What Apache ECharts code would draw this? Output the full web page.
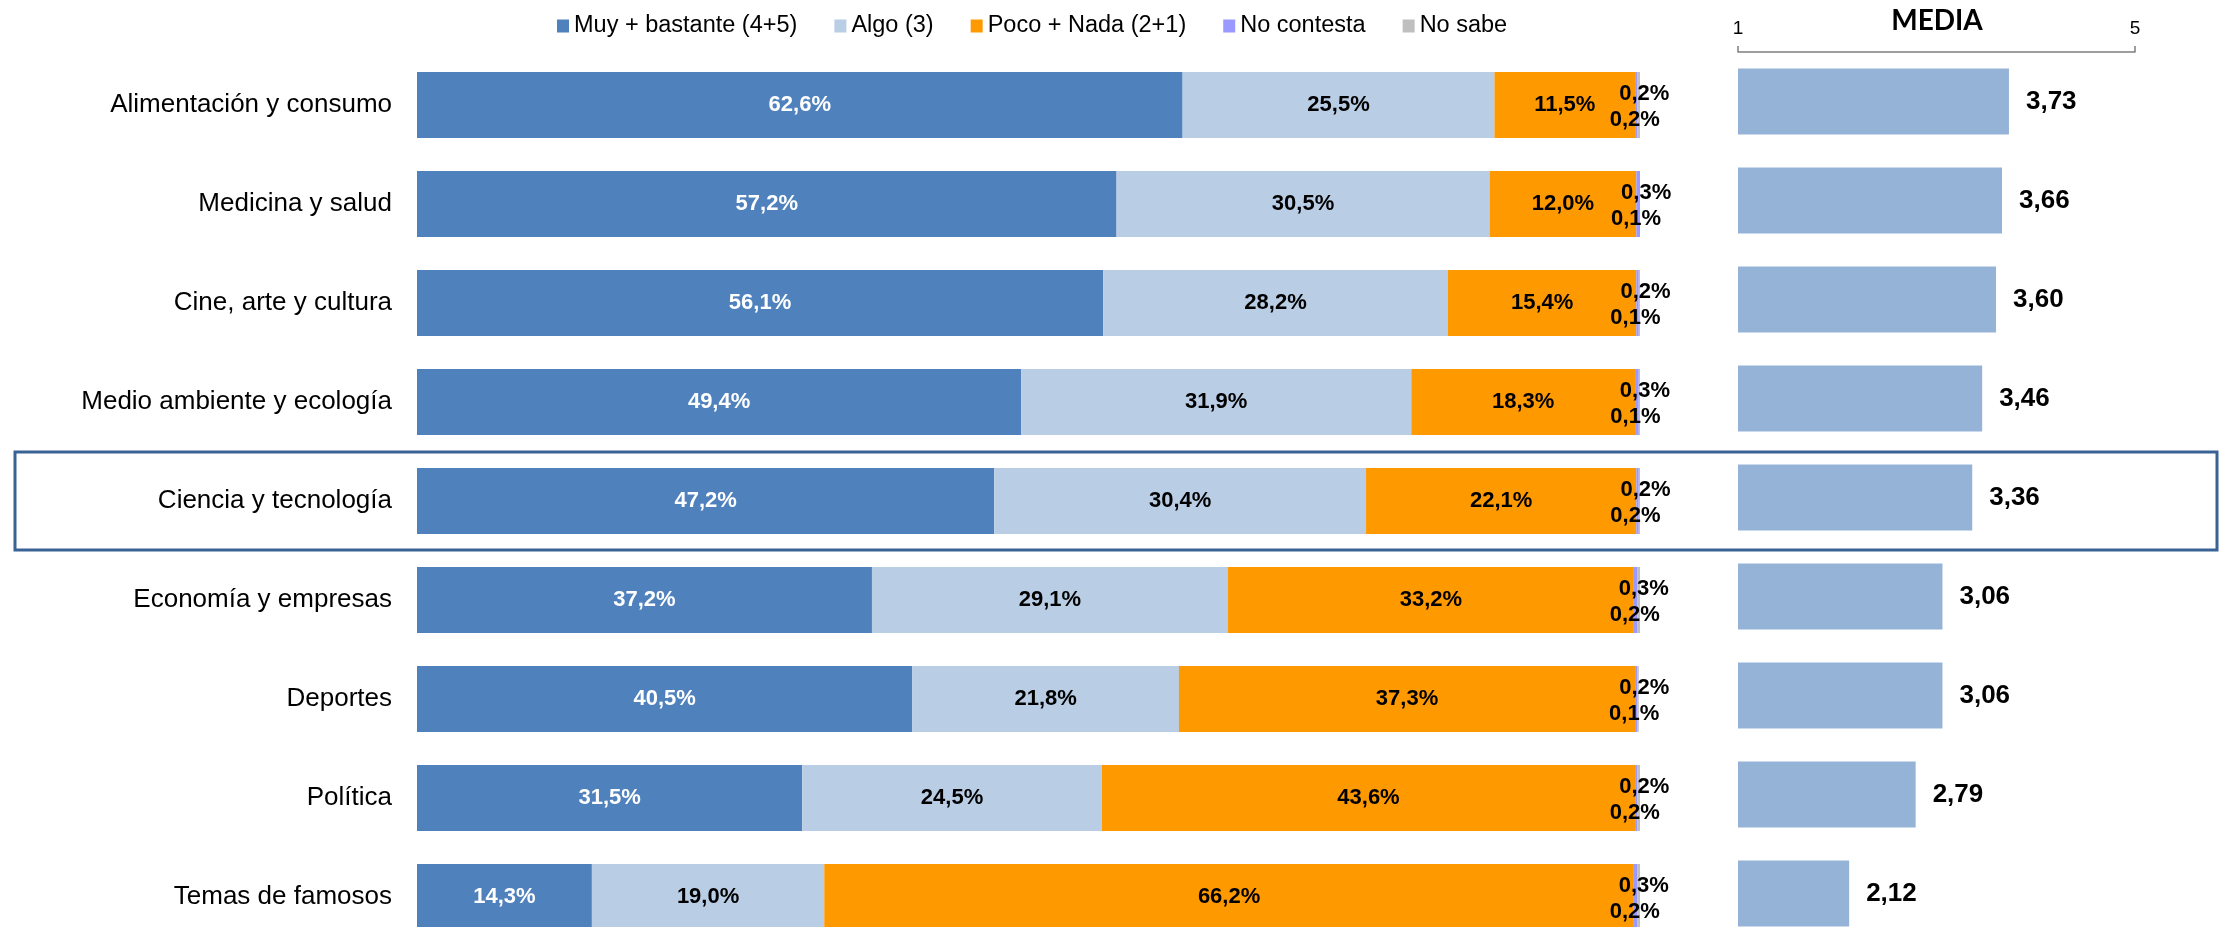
<!DOCTYPE html>
<html>
<head>
<meta charset="utf-8">
<script src="https://cdn.jsdelivr.net/npm/echarts@6/dist/echarts.min.js"></script>
<style>
  html, body { margin: 0; padding: 0; background: #fff; }
  #chart { width: 2219px; height: 927px; }
</style>
</head>
<body>
<div id="chart"></div>
<script>
const categories = [
  'Alimentación y consumo',
  'Medicina y salud',
  'Cine, arte y cultura',
  'Medio ambiente y ecología',
  'Ciencia y tecnología',
  'Economía y empresas',
  'Deportes',
  'Política',
  'Temas de famosos'
]
const muyBastante = [62.6, 57.2, 56.1, 49.4, 47.2, 37.2, 40.5, 31.5, 14.3]
const algo = [25.5, 30.5, 28.2, 31.9, 30.4, 29.1, 21.8, 24.5, 19.0]
const pocoNada = [11.5, 12.0, 15.4, 18.3, 22.1, 33.2, 37.3, 43.6, 66.2]
const noContesta = [0.2, 0.3, 0.2, 0.3, 0.2, 0.3, 0.2, 0.2, 0.3]
const noSabe = [0.2, 0.1, 0.1, 0.1, 0.2, 0.2, 0.1, 0.2, 0.2]
const media = [3.73, 3.66, 3.60, 3.46, 3.36, 3.06, 3.06, 2.79, 2.12]
const highlighted = 'Ciencia y tecnología'

const FONT = "'Liberation Sans', Arial, sans-serif"
const pct = v => v.toFixed(1).replace('.', ',') + '%'
const dec = v => v.toFixed(2).replace('.', ',')

// barra apilada de porcentajes
function stackSerie (name, data, color, label) {
  return {
    name: name,
    type: 'bar',
    stack: 'total',
    xAxisIndex: 0,
    yAxisIndex: 0,
    data: data,
    barWidth: 66,
    itemStyle: { color: color },
    label: Object.assign({
      show: true,
      fontFamily: FONT,
      fontWeight: 'bold',
      fontSize: 22,
      color: '#000',
      formatter: p => pct(p.value)
    }, label || {})
  }
}

const chart = echarts.init(document.getElementById('chart'))
const option = {
  animation: false,
  backgroundColor: '#fff',
  legend: {
    data: ['Muy + bastante (4+5)', 'Algo (3)', 'Poco + Nada (2+1)', 'No contesta', 'No sabe'],
    left: 552,
    top: 9,
    itemWidth: 12,
    itemHeight: 13,
    itemGap: 37,
    icon: 'rect',
    textStyle: {
      fontFamily: FONT,
      fontSize: 23.5,
      color: '#000'
    }
  },
  grid: [
    { left: 417, width: 1223, top: 55.5, height: 891, outerBoundsMode: 'none' },
    { left: 1738, width: 397, top: 52, height: 891, outerBoundsMode: 'none' }
  ],
  xAxis: [
    { type: 'value', gridIndex: 0, min: 0, max: 100, show: false },
    {
      type: 'value',
      gridIndex: 1,
      position: 'top',
      min: 1,
      max: 5,
      interval: 4,
      splitLine: { show: false },
      axisLine: { show: true, lineStyle: { color: '#7f7f7f', width: 1.5 } },
      axisTick: { show: true, length: 6, lineStyle: { color: '#7f7f7f', width: 1.5 } },
      axisLabel: { fontFamily: FONT, fontSize: 19, color: '#000', margin: 14 }
    }
  ],
  yAxis: [
    {
      type: 'category',
      gridIndex: 0,
      data: categories,
      inverse: true,
      axisLine: { show: false },
      axisTick: { show: false },
      axisLabel: { fontFamily: FONT, fontSize: 26, color: '#000', margin: 25 }
    },
    {
      type: 'category',
      gridIndex: 1,
      data: categories,
      inverse: true,
      show: false
    }
  ],
  series: [
    stackSerie('Muy + bastante (4+5)', muyBastante, '#4F81BD', { color: '#fff' }),
    stackSerie('Algo (3)', algo, '#B9CDE5'),
    stackSerie('Poco + Nada (2+1)', pocoNada, '#FF9900'),
    stackSerie('No contesta', noContesta, '#9999FF', { position: 'inside', offset: [8, -11] }),
    stackSerie('No sabe', noSabe, '#BFBFBF', { position: 'inside', offset: [-4, 15] }),
    {
      name: 'Media',
      type: 'bar',
      xAxisIndex: 1,
      yAxisIndex: 1,
      data: media,
      barWidth: 66,
      clip: true,
      itemStyle: { color: '#95B3D7' },
      label: {
        show: true,
        position: 'right',
        distance: 17,
        fontFamily: FONT,
        fontWeight: 'bold',
        fontSize: 26,
        color: '#000',
        formatter: p => dec(p.value)
      }
    }
  ]
}
chart.setOption(option)

// recuadro de la fila destacada y titulo MEDIA
const yc = chart.convertToPixel({ yAxisIndex: 0 }, highlighted)
chart.setOption({
  graphic: [
    {
      type: 'rect',
      z: 100,
      shape: { x: 15, y: yc - 49, width: 2202, height: 98 },
      style: { fill: 'none', stroke: '#3A6395', lineWidth: 3 }
    },
    {
      type: 'text',
      z: 100,
      x: 1937,
      y: 21,
      style: {
        text: 'MEDIA',
        fontFamily: "Lato, 'DejaVu Sans', sans-serif",
        fontWeight: 'bold',
        fontSize: 28,
        fill: '#000',
        align: 'center',
        verticalAlign: 'middle'
      }
    }
  ]
})
</script>
</body>
</html>
